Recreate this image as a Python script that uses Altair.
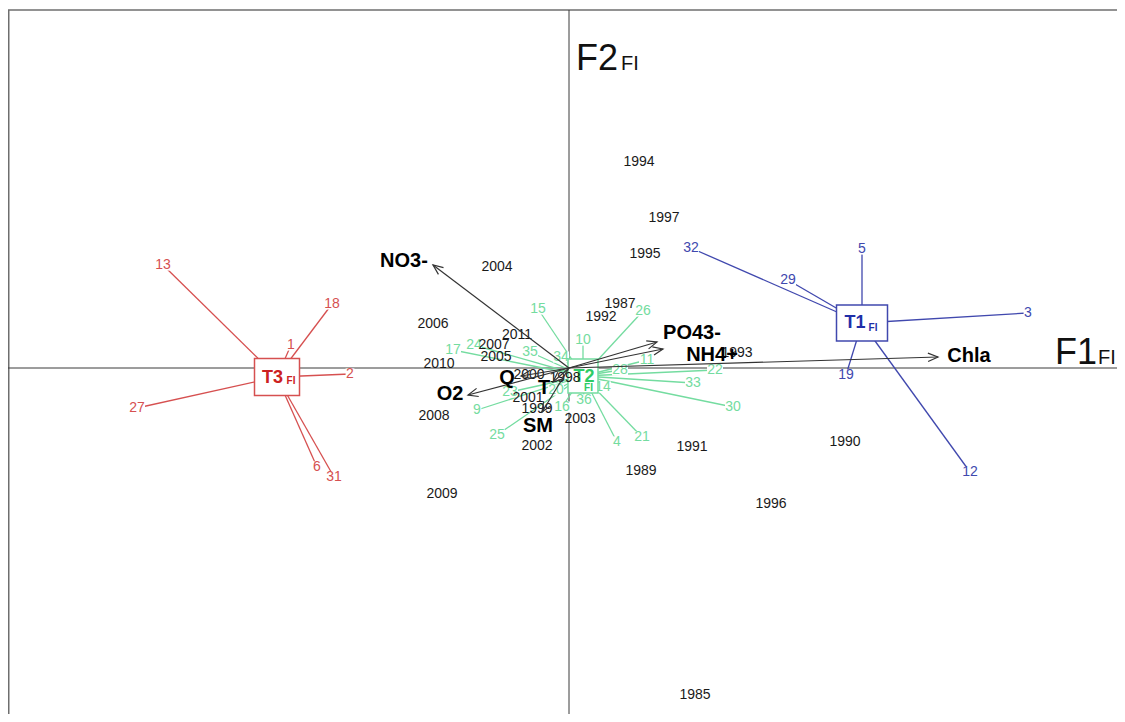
import altair as alt
import pandas as pd

# ---------------- data (ordination scores) ----------------
year_labels = ["1994", "1997", "1995", "2004", "1987", "1992", "2006", "2011", "2007",
               "2005", "2010", "1993", "2000", "1998", "2001", "1999", "2002", "2003",
               "2008", "2009", "1991", "1989", "1990", "1996", "1985"]
year_x = [0.70, 0.95, 0.76, -0.72, 0.51, 0.32, -1.36, -0.52, -0.75,
          -0.73, -1.30, 1.68, -0.40, -0.04, -0.41, -0.32, -0.32, 0.11,
          -1.35, -1.27, 1.23, 0.72, 2.76, 2.02, 1.26]
year_y = [2.06, 1.50, 1.14, 1.01, 0.64, 0.51, 0.44, 0.33, 0.23,
          0.11, 0.04, 0.15, -0.07, -0.10, -0.30, -0.41, -0.78, -0.51,
          -0.48, -1.26, -0.79, -1.03, -0.74, -1.36, -3.27]

var_labels = ["NO3-", "PO43-", "NH4+", "Chla", "O2", "Q", "T", "SM"]
var_x = [-1.36, 0.88, 0.94, 3.69, -1.01, -0.48, -0.16, -0.27]
var_y = [1.03, 0.26, 0.19, 0.11, -0.27, -0.08, -0.14, -0.44]
var_lab_x = [-1.65, 1.23, 1.43, 4.00, -1.19, -0.62, -0.25, -0.31]
var_lab_y = [1.07, 0.35, 0.13, 0.12, -0.26, -0.10, -0.20, -0.58]

group_names = ["T3", "T1", "T2"]
group_x = [-2.92, 2.93, 0.14]
group_y = [-0.09, 0.45, -0.08]

t3_ids = ["13", "18", "1", "2", "27", "6", "31"]
t3_x = [-4.06, -2.37, -2.78, -2.19, -4.32, -2.52, -2.35]
t3_y = [1.03, 0.64, 0.23, -0.06, -0.40, -0.99, -1.09]

t1_ids = ["32", "29", "5", "3", "19", "12"]
t1_x = [1.22, 2.19, 2.93, 4.59, 2.77, 4.01]
t1_y = [1.20, 0.88, 1.19, 0.55, -0.07, -1.04]

t2_ids = ["15", "26", "10", "17", "24", "35", "34", "11", "28", "22", "33",
          "30", "14", "36", "16", "20", "23", "9", "25", "4", "21"]
t2_x = [-0.31, 0.74, 0.14, -1.16, -0.95, -0.39, -0.08, 0.78, 0.51, 1.46, 1.24,
        1.64, 0.34, 0.15, -0.07, -0.13, -0.59, -0.92, -0.72, 0.48, 0.73]
t2_y = [0.59, 0.57, 0.28, 0.18, 0.23, 0.16, 0.11, 0.08, -0.02, -0.02, -0.15,
        -0.39, -0.19, -0.32, -0.39, -0.22, -0.24, -0.42, -0.67, -0.74, -0.69]

# ---------------- tables ----------------
W, H = 1109, 706
X = alt.Scale(domain=[-5.61, 5.48], nice=False, zero=False)
Y = alt.Scale(domain=[-3.46, 3.60], nice=False, zero=False)
FONT = "Liberation Sans"

line_col = {"T3": "#d65050", "T1": "#4048ae", "T2": "#74dca0"}
lab_col = {"T3": "#d24a4a", "T1": "#3b43b0", "T2": "#62d28e"}
head_col = {"T3": "#cc2020", "T1": "#1f2fa8", "T2": "#2ecc66"}

members = []
for g, ids, xs, ys in [("T3", t3_ids, t3_x, t3_y), ("T1", t1_ids, t1_x, t1_y),
                       ("T2", t2_ids, t2_x, t2_y)]:
    gi = group_names.index(g)
    for i, xx, yy in zip(ids, xs, ys):
        members.append({"group": g, "label": i, "x": xx, "y": yy,
                        "cx": group_x[gi], "cy": group_y[gi]})
mem = pd.DataFrame(members)
grp = pd.DataFrame({"group": group_names, "x": group_x, "y": group_y})
years = pd.DataFrame({"label": year_labels, "x": year_x, "y": year_y})
vars_ = pd.DataFrame({"label": var_labels, "x": var_x, "y": var_y,
                      "lx": var_lab_x, "ly": var_lab_y, "ox": 0.0, "oy": 0.0})
one = pd.DataFrame({"a": [0]})

gdom = group_names
line_scale = alt.Scale(domain=gdom, range=[line_col[g] for g in gdom])
lab_scale = alt.Scale(domain=gdom, range=[lab_col[g] for g in gdom])


def xq(f):
    return alt.X(f, type="quantitative", scale=X, axis=None)


def yq(f):
    return alt.Y(f, type="quantitative", scale=Y, axis=None)


# frame (top and left edges visible in the reference)
frame_top = alt.Chart(one).mark_rule(color="#6e6e6e", strokeWidth=1.5).encode(
    x=alt.value(0), x2=alt.value(W), y=alt.value(2))
frame_left = alt.Chart(one).mark_rule(color="#6e6e6e", strokeWidth=1.5).encode(
    x=alt.value(0.75), y=alt.value(2), y2=alt.value(H))

# zero axes
axis_v = alt.Chart(one).mark_rule(color="#3a3a3a", strokeWidth=1).encode(
    x=alt.X(datum=0, scale=X, axis=None), y=alt.value(2), y2=alt.value(H))
axis_h = alt.Chart(one).mark_rule(color="#3a3a3a", strokeWidth=1).encode(
    y=alt.Y(datum=0, scale=Y, axis=None), x=alt.value(0), x2=alt.value(W))

# group star lines
star = alt.Chart(mem).mark_rule(strokeWidth=1.3).encode(
    x=xq("cx"), y=yq("cy"), x2="x:Q", y2="y:Q",
    color=alt.Color("group:N", scale=line_scale, legend=None))

# white backgrounds behind member labels
bg = alt.Chart(mem).transform_calculate(
    shp="length(datum.label) > 1 ? 'M -1 -0.7 H 1 V 0.7 H -1 Z' : 'M -0.55 -0.7 H 0.55 V 0.7 H -0.55 Z'"
).mark_point(filled=True, color="white", opacity=1, size=256, strokeWidth=0).encode(
    x=xq("x"), y=yq("y"), shape=alt.Shape("shp:N", scale=None))

mem_text = alt.Chart(mem).mark_text(font=FONT, fontSize=14, baseline="middle").encode(
    x=xq("x"), y=yq("y"), text="label:N",
    color=alt.Color("group:N", scale=lab_scale, legend=None))

# class boxes
box_shapes = {"T3": ("M -1 -0.82 H 1 V 0.82 H -1 Z", 2025),
              "T1": ("M -1 -0.706 H 1 V 0.706 H -1 Z", 2601),
              "T2": ("M -1 -1.13 H 1 V 1.13 H -1 Z", 900)}
head_off = {"T3": (-4.5, 1, 14, 4), "T1": (-7, 0, 11, 5), "T2": (1, 1, 5.5, 12)}
box_layers = []
for g in group_names:
    d = grp[grp.group == g]
    path, sz = box_shapes[g]
    box_layers.append(alt.Chart(d).mark_point(
        shape=path, size=sz, filled=True, fill="white", stroke=line_col[g],
        strokeWidth=1.5, opacity=1).encode(x=xq("x"), y=yq("y")))
    dx1, dy1, dx2, dy2 = head_off[g]
    box_layers.append(alt.Chart(d).mark_text(
        font=FONT, fontSize=18, fontWeight="bold", color=head_col[g], dx=dx1, dy=dy1,
        baseline="middle").encode(x=xq("x"), y=yq("y"), text="group:N"))
    box_layers.append(alt.Chart(d).mark_text(
        font=FONT, fontSize=10, fontWeight="bold", color=head_col[g], dx=dx2, dy=dy2,
        baseline="middle").encode(x=xq("x"), y=yq("y"), text=alt.value("FI")))

# year labels
year_text = alt.Chart(years).mark_text(font=FONT, fontSize=14, color="#1a1a1a",
                                       baseline="middle").encode(
    x=xq("x"), y=yq("y"), text="label:N")

# variable arrows
arrows = alt.Chart(vars_).mark_rule(color="#333333", strokeWidth=1.2).encode(
    x=xq("ox"), y=yq("oy"), x2="x:Q", y2="y:Q")
heads = alt.Chart(vars_).transform_calculate(
    ang="(atan2(datum.x, datum.y) * 180 / PI + 360) % 360"
).mark_point(shape="M -0.42 1 L 0 0 L 0.42 1", size=400, filled=False,
             color="#333333", strokeWidth=1.2, opacity=1).encode(
    x=xq("x"), y=yq("y"), angle=alt.Angle("ang:Q", scale=None))
var_text = alt.Chart(vars_).mark_text(font=FONT, fontSize=20, fontWeight="bold",
                                      color="black", baseline="middle").encode(
    x=xq("lx"), y=yq("ly"), text="label:N")

# axis names
def note(txt, px, py, size):
    return alt.Chart(one).mark_text(font=FONT, fontSize=size, color="#111111",
                                    align="left", baseline="alphabetic").encode(
        x=alt.value(px), y=alt.value(py), text=alt.value(txt))

names = [note("F2", 568, 62, 36), note("FI", 613, 62, 20),
         note("F1", 1047, 356, 36), note("FI", 1090, 356, 20)]

chart = alt.layer(
    frame_top, frame_left, axis_v, axis_h, star, bg, mem_text, *box_layers,
    year_text, arrows, heads, var_text, *names
).properties(
    width=W, height=H, padding=0, autosize=alt.AutoSizeParams(type="none")
).configure_view(strokeWidth=0)

chart.save("out.html", embed_options={"renderer": "svg", "actions": False})
